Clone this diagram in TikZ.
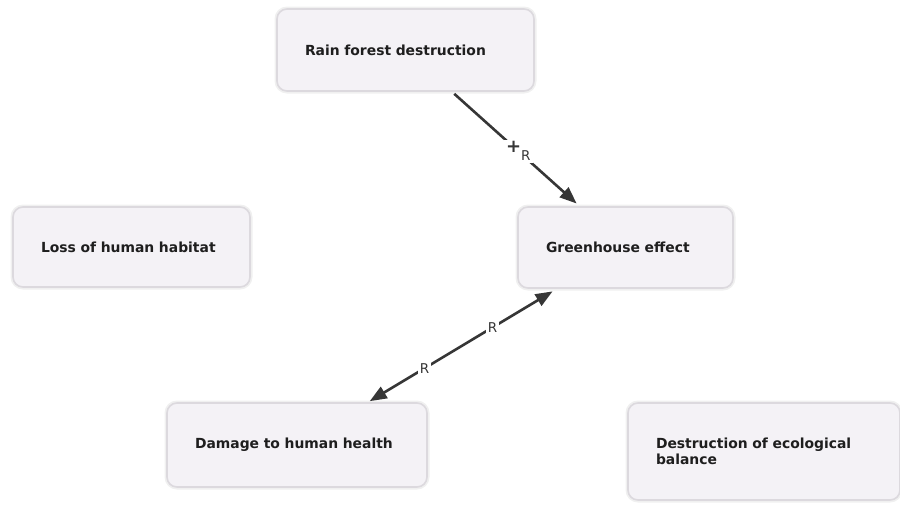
\documentclass[tikz,border=0pt]{standalone}
\usepackage{fontspec}
\setmainfont{DejaVu Sans}
\usetikzlibrary{arrows.meta,calc}
\definecolor{boxfill}{HTML}{F4F2F6}
\definecolor{boxline}{HTML}{DCD9DE}
\definecolor{linkcol}{HTML}{363636}
\definecolor{txtcol}{HTML}{1E1E1E}
\tikzset{
  concept/.style={rectangle, rounded corners=10pt, fill=boxfill, draw=boxline, line width=1.6pt,
    preaction={draw=black!6, line width=5pt},
    inner xsep=28pt, inner ysep=4pt, align=left, anchor=center,
    font=\fontsize{13.9}{16}\selectfont\bfseries, text=txtcol},
  link/.style={draw=linkcol, line width=2.6pt, -{Triangle[length=17pt,width=13pt]}},
  biling/.style={draw=linkcol, line width=2.6pt, {Triangle[length=17pt,width=13pt]}-{Triangle[length=17pt,width=13pt]}},
  lbl/.style={fill=white, inner sep=2pt, text=linkcol, font=\fontsize{13.5}{13.5}\selectfont}
}
\begin{document}
\begin{tikzpicture}[x=1pt,y=-1pt]
\useasboundingbox (0,0) rectangle (900,504);
\node[concept, minimum width=257pt, minimum height=82pt, text width=201pt] (rain) at (405.5,50) {Rain forest destruction};
\node[concept, minimum width=237pt, minimum height=80pt, text width=181pt] (loss) at (131.5,247) {Loss of human habitat};
\node[concept, minimum width=215pt, minimum height=81pt, text width=159pt] (green) at (625.5,247.5) {Greenhouse effect};
\node[concept, minimum width=260pt, minimum height=84pt, text width=204pt] (damage) at (297,445) {Damage to human health};
\node[concept, minimum width=272pt, minimum height=97pt, text width=216pt] (eco) at (764,451.5) {Destruction of ecological\\balance};
\draw[link, shorten <=3pt, shorten >=4pt] (rain) -- (green)
  node[lbl, pos=0.52] {\raisebox{2pt}{\fontsize{18}{18}\selectfont\bfseries +}\kern0pt\raisebox{-6pt}{R}};
\draw[biling, shorten <=5pt, shorten >=2pt] (green) -- (damage)
  node[lbl, pos=0.34] {R}
  node[lbl, pos=0.70] {R};
\end{tikzpicture}
\end{document}
